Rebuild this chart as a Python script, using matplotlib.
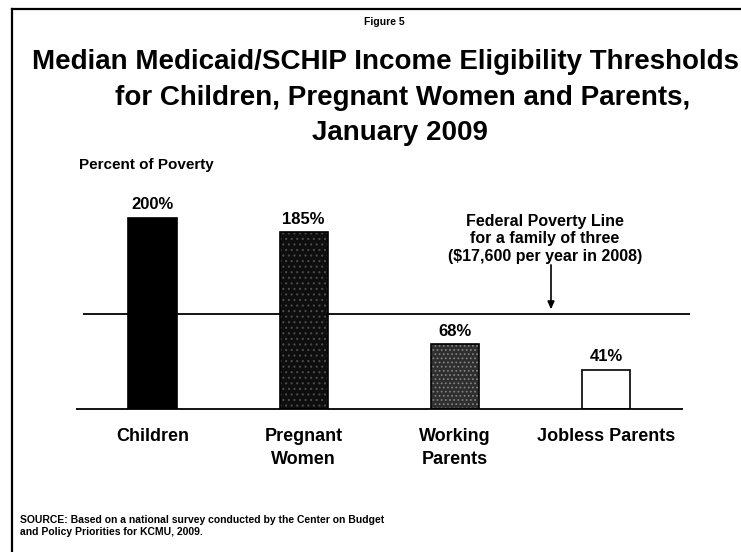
import matplotlib
matplotlib.use("Agg")
import matplotlib.pyplot as plt
from matplotlib.lines import Line2D
import numpy as np

# data
categories = ["Children", "Pregnant\nWomen", "Working\nParents", "Jobless Parents"]
values = [200, 185, 68, 41]
value_labels = ["200%", "185%", "68%", "41%"]
poverty_line = 100

W, H = 741, 552
plt.rcParams["font.family"] = ["Liberation Sans", "DejaVu Sans"]
plt.rcParams["font.weight"] = "bold"
plt.rcParams["hatch.linewidth"] = 0.8

fig = plt.figure(figsize=(W / 100, H / 100), dpi=100)
fig.patch.set_facecolor("white")


def fx(px):
    return px / W


def fy(py):
    return 1 - py / H


# frame (left and top edge of the slide)
fig.add_artist(Line2D([fx(12), fx(12)], [fy(9), fy(552)], color="black", lw=1.6))
fig.add_artist(Line2D([fx(12), fx(741)], [fy(9), fy(9)], color="black", lw=1.6))

fig.text(fx(384), fy(22), "Figure 5", ha="center", va="center", fontsize=7.5, weight="bold")
fig.text(fx(386), fy(62), "Median Medicaid/SCHIP Income Eligibility Thresholds",
         ha="center", va="center", fontsize=20, weight="bold")
fig.text(fx(403), fy(98), "for Children, Pregnant Women and Parents,",
         ha="center", va="center", fontsize=20, weight="bold")
fig.text(fx(400), fy(133), "January 2009", ha="center", va="center", fontsize=20, weight="bold")
fig.text(fx(79), fy(165), "Percent of Poverty", ha="left", va="center", fontsize=11, weight="bold")

# axes placed in pixel terms
px_per_pct = 0.955
ymax = 230
left, right, base = 76, 690, 409
ax = fig.add_axes([fx(left), fy(base), (right - left) / W, ymax * px_per_pct / H])
ax.set_facecolor("none")

x0, step = 152.5, 151.2
ax.set_xlim((left - x0) / step, (right - x0) / step)
ax.set_ylim(0, ymax)

x = np.arange(len(values))
w = 0.32
faces = ["black", "#0e0e0e", "#2e2e2e", "white"]
hatches = [None, "...", "....", None]
hcols = ["black", "#4a4a4a", "#808080", "white"]
for i in range(len(values)):
    ax.bar(x[i], values[i], width=w, color=faces[i], edgecolor=hcols[i],
           hatch=hatches[i], linewidth=0, zorder=2)
    ax.bar(x[i], values[i], width=w, fill=False, edgecolor="black", linewidth=1.2, zorder=3)
    ax.annotate(value_labels[i], (x[i], values[i]), xytext=(0, 4), textcoords="offset points",
                ha="center", va="bottom", fontsize=12, weight="bold")

# baseline and poverty line
ax.hlines(0, (76 - x0) / step, (683 - x0) / step, color="black", lw=1.3, zorder=4, clip_on=False)
ax.hlines(poverty_line, (83 - x0) / step, (690 - x0) / step, color="black", lw=1.3, zorder=1)

ax.set_xticks(x)
ax.set_xticklabels(categories, fontsize=13, weight="bold", linespacing=1.4, va="top")
ax.tick_params(axis="x", length=0, pad=14)
ax.set_yticks([])
for s in ax.spines.values():
    s.set_visible(False)

# annotation for the poverty line, arrow pointing down onto it
fig.text(fx(545), fy(239), "Federal Poverty Line\nfor a family of three\n($17,600 per year in 2008)",
         ha="center", va="center", fontsize=11.5, weight="bold", linespacing=1.2)
ax.annotate("", xy=((551 - x0) / step, poverty_line), xytext=(0, 35), textcoords="offset points",
            arrowprops=dict(arrowstyle="-|>,head_length=0.45,head_width=0.2", color="black",
                            lw=1.2, shrinkA=0, shrinkB=3))

fig.text(fx(20), fy(526), "SOURCE: Based on a national survey conducted by the Center on Budget\n"
         "and Policy Priorities for KCMU, 2009.", ha="left", va="center", fontsize=7.5,
         weight="bold", linespacing=1.25)

fig.savefig("out.png", dpi=100, facecolor="white")
